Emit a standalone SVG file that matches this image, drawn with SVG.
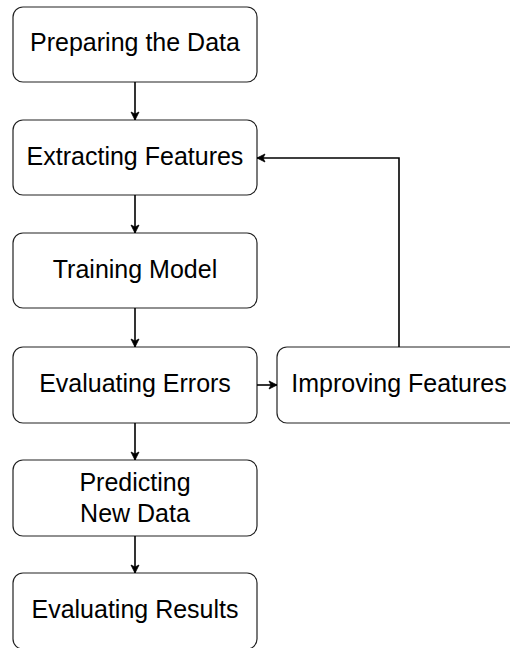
<svg xmlns="http://www.w3.org/2000/svg" width="510" height="648" viewBox="0 0 510 648">
<style>
.box{fill:#fff;stroke:#222;stroke-width:1.2}
.lbl{font-family:"Liberation Sans",Arial,sans-serif;font-size:25px;fill:#000;text-anchor:middle}
.edge{fill:none;stroke:#000;stroke-width:1.6}
</style>
<defs>
<marker id="arr" markerWidth="10" markerHeight="10" refX="9" refY="5" orient="auto" markerUnits="userSpaceOnUse">
<path d="M1,1 L9,5 L1,9 L3,5 Z" fill="#000" stroke="#000" stroke-width="0.8" stroke-linejoin="round"/>
</marker>
</defs>
<rect width="510" height="648" fill="#fff"/>
<g id="n1"><rect class="box" x="13" y="7" width="244" height="75" rx="10"/><text class="lbl" x="135" y="51">Preparing the Data</text></g>
<g id="n2"><rect class="box" x="13" y="120" width="244" height="75" rx="10"/><text class="lbl" x="135" y="165">Extracting Features</text></g>
<g id="n3"><rect class="box" x="13" y="233" width="244" height="75" rx="10"/><text class="lbl" x="135" y="278">Training Model</text></g>
<g id="n4"><rect class="box" x="13" y="347" width="244" height="76" rx="10"/><text class="lbl" x="135" y="392">Evaluating Errors</text></g>
<g id="n5"><rect class="box" x="277" y="347" width="244" height="76" rx="10"/><text class="lbl" x="399" y="392">Improving Features</text></g>
<g id="n6"><rect class="box" x="13" y="460" width="244" height="76" rx="10"/><text class="lbl" x="135" y="490.5">Predicting</text><text class="lbl" x="135" y="521.5">New Data</text></g>
<g id="n7"><rect class="box" x="13" y="573" width="244" height="76" rx="10"/><text class="lbl" x="135" y="618">Evaluating Results</text></g>
<g id="edges">
<line class="edge" x1="135" y1="82" x2="135" y2="120" marker-end="url(#arr)"/>
<line class="edge" x1="135" y1="195" x2="135" y2="233" marker-end="url(#arr)"/>
<line class="edge" x1="135" y1="308" x2="135" y2="347" marker-end="url(#arr)"/>
<line class="edge" x1="135" y1="423" x2="135" y2="460" marker-end="url(#arr)"/>
<line class="edge" x1="135" y1="536" x2="135" y2="573" marker-end="url(#arr)"/>
<line class="edge" x1="257" y1="385" x2="277" y2="385" marker-end="url(#arr)"/>
<polyline class="edge" points="399,347 399,158 257,158" marker-end="url(#arr)"/>
</g>
</svg>
